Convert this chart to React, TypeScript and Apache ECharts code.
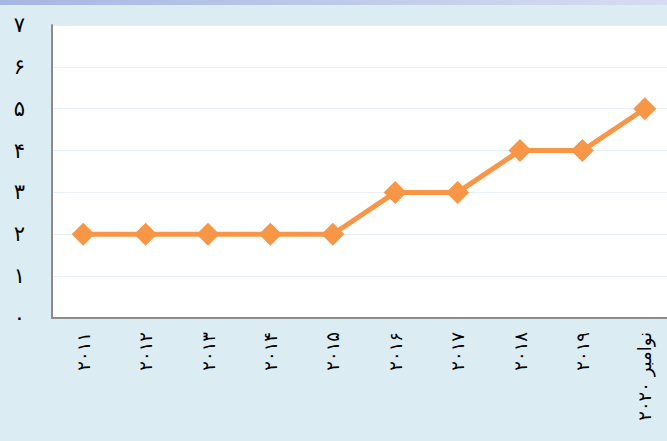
import React, { useEffect, useRef } from "react";
import * as echarts from "echarts";

const categories = ["۲۰۱۱", "۲۰۱۲", "۲۰۱۳", "۲۰۱۴", "۲۰۱۵", "۲۰۱۶", "۲۰۱۷", "۲۰۱۸", "۲۰۱۹", "نوامبر ۲۰۲۰"];
const values = [2, 2, 2, 2, 2, 3, 3, 4, 4, 5];
const yTickLabels = ["۰", "۱", "۲", "۳", "۴", "۵", "۶", "۷"];

export default function App() {
  const ref = useRef<HTMLDivElement>(null);
  useEffect(() => {
    if (!ref.current) return;
    const chart = echarts.init(ref.current, null, { renderer: "svg" });
    chart.setOption({
      animation: false,
      backgroundColor: "#dbedf3",
      graphic: [
        {
          type: "rect",
          left: 0,
          top: 0,
          shape: { width: 667, height: 5 },
          style: {
            fill: new echarts.graphic.LinearGradient(0, 0, 1, 0, [
              { offset: 0, color: "#a6b6e2" },
              { offset: 1, color: "#d6ddf0" },
            ]),
          },
          silent: true,
        },
      ],
      grid: {
        left: 52,
        top: 25,
        width: 624,
        height: 293,
        outerBoundsMode: "none",
        containLabel: false,
        show: true,
        backgroundColor: "#ffffff",
        borderWidth: 0,
      },
      xAxis: {
        type: "category",
        data: categories,
        boundaryGap: true,
        axisLine: { show: true, lineStyle: { color: "#8c8c8c", width: 2 } },
        axisTick: { show: false },
        axisLabel: {
          rotate: 90,
          margin: 14,
          fontSize: 18,
          color: "#000",
          fontFamily: "DejaVu Sans",
          interval: 0,
        },
      },
      yAxis: {
        type: "value",
        min: 0,
        max: 7,
        interval: 1,
        axisLine: { show: true, lineStyle: { color: "#8c8c8c", width: 2 } },
        axisTick: { show: false },
        splitLine: { lineStyle: { color: "#e6eef6", width: 1 } },
        axisLabel: {
          margin: 27,
          fontSize: 21,
          color: "#000",
          fontFamily: "DejaVu Sans",
          formatter: (v: number) => yTickLabels[v] ?? "",
        },
      },
      series: [
        {
          type: "line",
          data: values,
          symbol: "diamond",
          symbolSize: 23,
          lineStyle: { color: "#f79646", width: 5 },
          itemStyle: { color: "#f79646" },
        },
      ],
    });
    return () => chart.dispose();
  }, []);
  return (
    <div
      ref={ref}
      style={{ position: "absolute", left: 0, top: 0, width: 667, height: 441 }}
    />
  );
}
